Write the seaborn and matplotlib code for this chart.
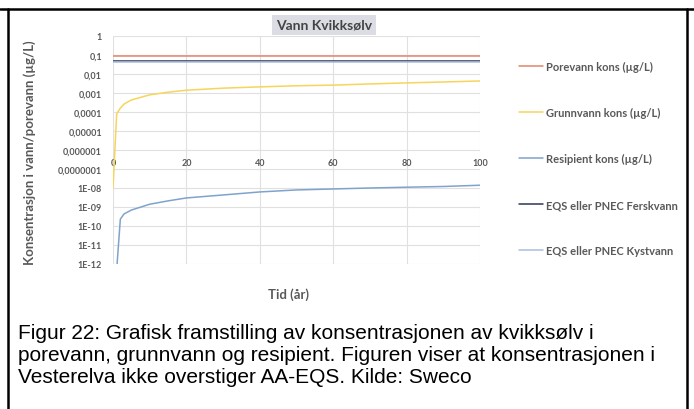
import numpy as np
import pandas as pd
import matplotlib
matplotlib.use('Agg')
import matplotlib.pyplot as plt
from matplotlib.lines import Line2D
import seaborn as sns

# --- data --------------------------------------------------------------
tid = [0, 1, 2, 3, 5, 10, 15, 20, 30, 40, 50, 60, 70, 80, 90, 100]
grunnvann = [1.0e-8, 7.9e-5, 1.6e-4, 2.6e-4, 4.3e-4, 8.0e-4, 1.1e-3, 1.4e-3,
             1.8e-3, 2.1e-3, 2.4e-3, 2.6e-3, 3.0e-3, 3.4e-3, 3.8e-3, 4.3e-3]
resipient = [1.0e-14, 5.0e-13, 2.3e-10, 4.3e-10, 6.9e-10, 1.4e-9, 2.1e-9, 3.0e-9,
             4.3e-9, 6.2e-9, 7.9e-9, 8.9e-9, 1.0e-8, 1.1e-8, 1.2e-8, 1.4e-8]
porevann = 0.09
eqs_ferskvann = 0.047
eqs_kystvann = 0.042

serier = ['Porevann kons (µg/L)', 'Grunnvann kons (µg/L)', 'Resipient kons (µg/L)',
          'EQS eller PNEC Ferskvann', 'EQS eller PNEC Kystvann']
farger = ['#E2866A', '#F6D55C', '#7FA3CC', '#2E3750', '#A9BEDF']

y_ticks = [1e0, 1e-1, 1e-2, 1e-3, 1e-4, 1e-5, 1e-6, 1e-7, 1e-8, 1e-9, 1e-10, 1e-11, 1e-12]
y_tick_labels = ['1', '0,1', '0,01', '0,001', '0,0001', '0,00001', '0,000001',
                 '0,0000001', '1E-08', '1E-09', '1E-10', '1E-11', '1E-12']
x_ticks = [0, 20, 40, 60, 80, 100]

tittel = 'Vann Kvikksølv'
x_tittel = 'Tid (år)'
y_tittel = 'Konsentrasjon i vann/porevann (µg/L)'
tekst = ('Figur 22: Grafisk framstilling av konsentrasjonen av kvikksølv i\n'
         'porevann, grunnvann og resipient. Figuren viser at konsentrasjonen i\n'
         'Vesterelva ikke overstiger AA-EQS. Kilde: Sweco')

# long table for seaborn
df = pd.concat([
    pd.DataFrame({'Tid': [tid[0], tid[-1]], 'kons': [porevann] * 2, 'serie': serier[0]}),
    pd.DataFrame({'Tid': tid, 'kons': grunnvann, 'serie': serier[1]}),
    pd.DataFrame({'Tid': tid, 'kons': resipient, 'serie': serier[2]}),
    pd.DataFrame({'Tid': [tid[0], tid[-1]], 'kons': [eqs_kystvann] * 2, 'serie': serier[4]}),
    pd.DataFrame({'Tid': [tid[0], tid[-1]], 'kons': [eqs_ferskvann] * 2, 'serie': serier[3]}),
])

sns.set_theme(style='white')
plt.rcParams['font.family'] = ['Lato', 'DejaVu Sans']

W, H = 694, 410
fig = plt.figure(figsize=(W / 100, H / 100), dpi=100)
ax = fig.add_axes([113 / W, 1 - 265 / H, (480 - 113) / W, (265 - 37) / H])

sns.lineplot(data=df, x='Tid', y='kons', hue='serie', hue_order=serier,
             palette=dict(zip(serier, farger)), linewidth=1.1, ax=ax,
             legend=False, estimator=None, sort=False)

ax.set_yscale('log')
ax.set_ylim(1e-12, 1)
ax.set_xlim(0, 100)
ax.set_yticks(y_ticks)
ax.set_yticklabels(y_tick_labels)
ax.minorticks_off()
ax.set_xticks(x_ticks)
ax.set_xticklabels([str(t) for t in x_ticks])
ax.grid(True, color='#E0E0E0', linewidth=0.8)
ax.set_axisbelow(True)
for s in ax.spines.values():
    s.set_visible(False)
# Excel-style crossing of the horizontal axis
ax.spines['bottom'].set_position(('data', 1e-6))
ax.tick_params(axis='both', length=0, labelsize=6.5, labelcolor='#595959')
ax.tick_params(axis='x', pad=6)
ax.tick_params(axis='y', pad=8)
for lab in ax.get_xticklabels() + ax.get_yticklabels():
    lab.set_fontweight('bold')
ax.set_xlabel('')
ax.set_ylabel('')

fig.text(289 / W, 1 - 295 / H, x_tittel, ha='center', va='center',
         fontsize=9.5, fontweight='bold', color='#595959')
fig.text(30 / W, 1 - 153 / H, y_tittel, ha='center', va='center', rotation=90,
         fontsize=9.5, fontweight='bold', color='#595959')
fig.text(324 / W, 1 - 26 / H, tittel, ha='center', va='center', fontsize=10,
         fontweight='bold', color='#444444',
         bbox=dict(boxstyle='square,pad=0.3', facecolor='#DCDCE4', edgecolor='none'))

handles = [Line2D([], [], color=c, linewidth=1.1) for c in farger]
fig.legend(handles, serier, loc='upper left', bbox_to_anchor=(509 / W, 1 - 52 / H),
           frameon=False, handlelength=2.2, handletextpad=0.2,
           labelspacing=3.15, labelcolor='#595959', prop={'weight': 'bold', 'size': 8})

fig.text(18 / W, 1 - 324 / H, tekst, ha='left', va='top', fontsize=15,
         family='Liberation Sans', color='black', linespacing=1.2)

# frame around the figure block
fig.add_artist(Line2D([0, 1], [1 - 10 / H] * 2, transform=fig.transFigure, color='black', linewidth=1.8))
fig.add_artist(Line2D([8 / W] * 2, [0, 1 - 10 / H], transform=fig.transFigure, color='black', linewidth=1.8))
fig.add_artist(Line2D([687 / W] * 2, [0, 1 - 10 / H], transform=fig.transFigure, color='black', linewidth=1.8))

fig.savefig('out.png', dpi=100)
